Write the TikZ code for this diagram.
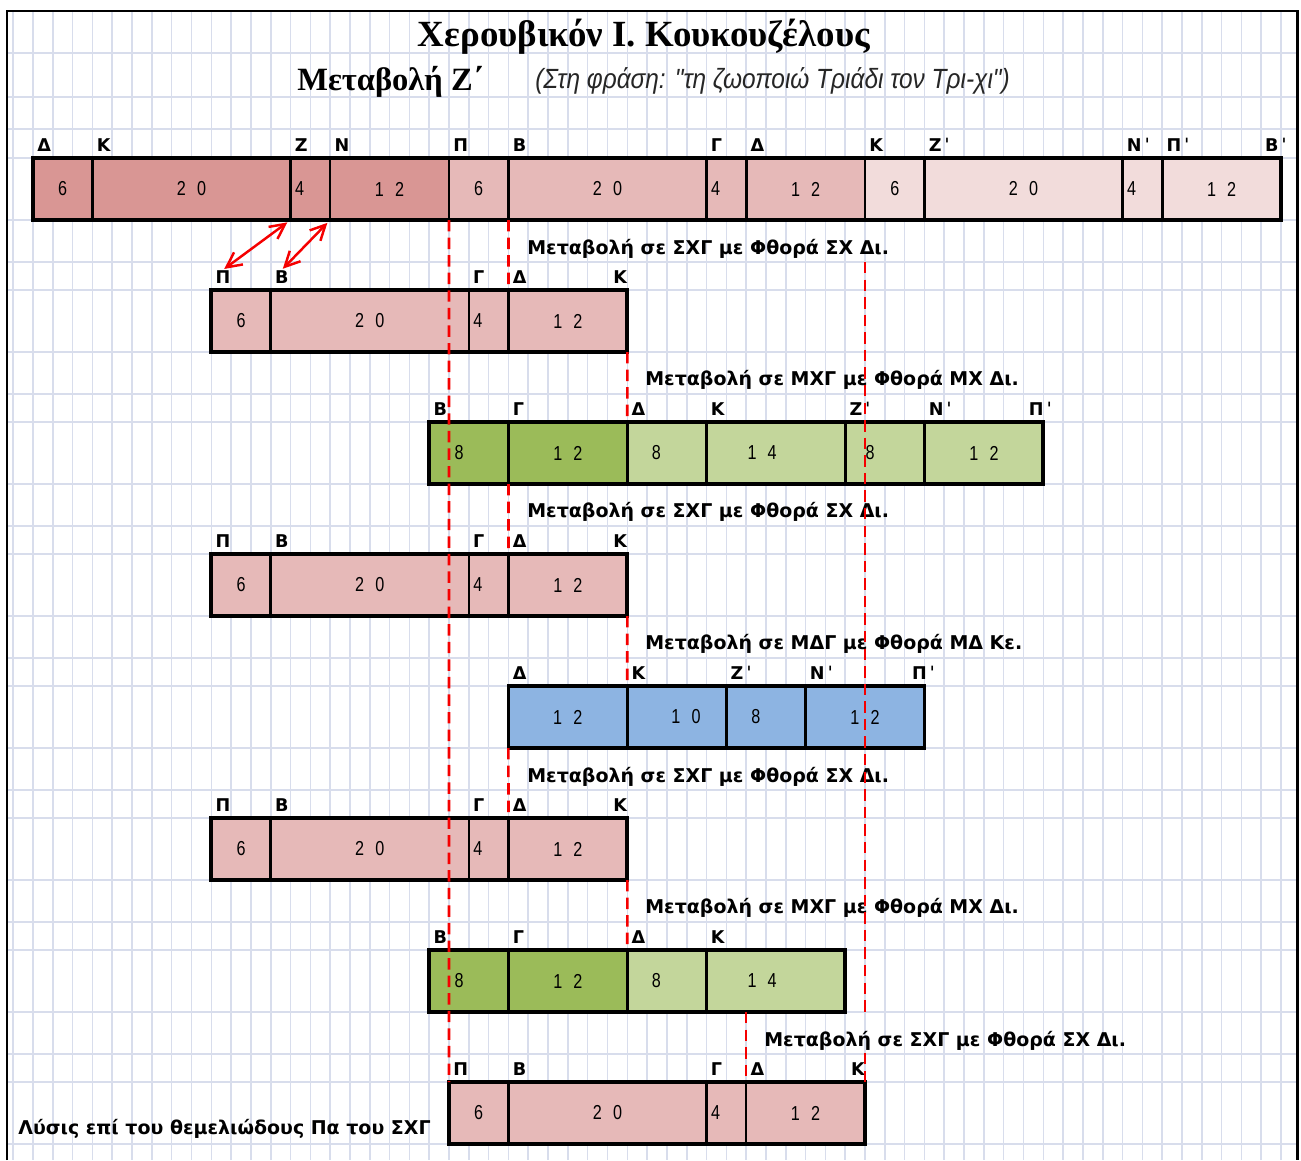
\documentclass[tikz,border=0pt]{standalone}
\usepackage{fontspec}
\setmainfont{DejaVu Sans}
\newfontfamily\titlefont{Liberation Serif}
\newfontfamily\phrasefont{Liberation Sans}[FakeStretch=0.88]
\newfontfamily\numfont{Liberation Sans}[FakeStretch=0.8, WordSpace=2.5]
\usetikzlibrary{arrows.meta, positioning}
\definecolor{gridblue}{RGB}{216,221,236}
\definecolor{pinkdark}{RGB}{217,150,148}
\definecolor{pinkmid}{RGB}{230,185,184}
\definecolor{pinklight}{RGB}{242,220,219}
\definecolor{greendark}{RGB}{155,187,89}
\definecolor{greenlight}{RGB}{195,214,155}
\definecolor{cellblue}{RGB}{141,180,226}
\definecolor{guidered}{RGB}{245,0,0}

\begin{document}
\begin{tikzpicture}[x=0.2mm, y=-0.2mm,
        gridline/.style={gridblue, line width=0.9pt},
        cell/.style={rectangle, draw=black, line width=1.5pt, minimum height=12.4mm,
                     inner sep=0pt, outer sep=0pt, anchor=north west,
                     font=\numfont\fontsize{11.5}{11.5}\selectfont},
        cols/.style={minimum width=#1*3.962mm},
        nudge/.style={execute at begin node={\hspace*{#1}}},
        boxline/.style={draw=black, line width=2.1pt},
        tag/.style={anchor=base west, inner sep=0pt, xshift=0.8mm, yshift=1.4mm,
                    font=\bfseries\fontsize{10}{12}\selectfont},
        tagend/.style={anchor=base east, inner sep=0pt, xshift=#1, yshift=1.4mm,
                       font=\bfseries\fontsize{10}{12}\selectfont},
        note/.style={anchor=base west, inner sep=0pt, font=\bfseries\fontsize{10.8}{12}\selectfont},
        guide/.style={guidered, line width=1.5pt, dash pattern=on 6.5pt off 3.5pt},
        swaparrow/.style={{Straight Barb[length=3mm, width=3mm]}-{Straight Barb[length=3mm, width=3mm]},
                          guidered, line width=1.4pt, shorten >=0.8mm, shorten <=0.3mm}
    ]
    \useasboundingbox (0,0) rectangle (1301,1160);
    \fill[white] (0,0) rectangle (1301,1160);
    \foreach \i in {-1,...,63}
        \draw[gridline] ({33+19.81*\i},11) -- ({33+19.81*\i},1160);
    \foreach \y in {53,97,129,158,220,262,290,352,394,422,484,526,554,616,658,686,748,790,818,880,922,950,1012,1054,1082,1144}
        \draw[gridline] (7,\y) -- (1297,\y);
    \draw[line width=1.7pt] (7,1160) -- (7,11) -- (1297,11) -- (1297,1160);

    \node[font=\titlefont\bfseries\fontsize{21}{24}\selectfont, anchor=base] (title) at (644,46) {Χερουβικόν Ι. Κουκουζέλους};
    \node[font=\titlefont\bfseries\fontsize{18.5}{20}\selectfont, anchor=base west, inner sep=0pt] (var) at (297,90) {Μεταβολή Ζ΄};
    \node[font=\phrasefont\itshape\fontsize{15.8}{17}\selectfont, anchor=base west, inner sep=0pt, text=black!85] (phrase) at (535,88) {(Στη φράση: "τη ζωοποιώ Τριάδι τον Τρι-χι")};

    % arxiki fora
    \node[cell, cols=3, fill=pinkdark] (d1) at (33,158) {6};
    \node[cell, cols=10, fill=pinkdark, right=0pt of d1] (k1) {2 0};
    \node[cell, cols=2, fill=pinkdark, nudge=-4.3mm, right=0pt of k1] (z1) {4};
    \node[cell, cols=6, fill=pinkdark, right=0pt of z1] (n1) {1 2};
    \node[cell, cols=3, fill=pinkmid, right=0pt of n1] (p1) {6};
    \node[cell, cols=10, fill=pinkmid, right=0pt of p1] (b1) {2 0};
    \node[cell, cols=2, fill=pinkmid, nudge=-4.3mm, right=0pt of b1] (g1) {4};
    \node[cell, cols=6, fill=pinkmid, right=0pt of g1] (dd1) {1 2};
    \node[cell, cols=3, fill=pinklight, right=0pt of dd1] (kk1) {6};
    \node[cell, cols=10, fill=pinklight, right=0pt of kk1] (zz1) {2 0};
    \node[cell, cols=2, fill=pinklight, nudge=-4.3mm, right=0pt of zz1] (nn1) {4};
    \node[cell, cols=6, fill=pinklight, right=0pt of nn1] (pp1) {1 2};
    \draw[boxline] (d1.north west) rectangle (pp1.south east);
    \node[tag] (ld1) at (d1.north west) {Δ};
    \node[tag] (lk1) at (k1.north west) {Κ};
    \node[tag] (lz1) at (z1.north west) {Ζ};
    \node[tag] (ln1) at (n1.north west) {Ν};
    \node[tag] (lp1) at (p1.north west) {Π};
    \node[tag] (lb1) at (b1.north west) {Β};
    \node[tag] (lg1) at (g1.north west) {Γ};
    \node[tag] (ldd1) at (dd1.north west) {Δ};
    \node[tag] (lkk1) at (kk1.north west) {Κ};
    \node[tag] (lzz1) at (zz1.north west) {Ζ\,ˈ};
    \node[tag] (lnn1) at (nn1.north west) {Ν\,ˈ};
    \node[tag] (lpp1) at (pp1.north west) {Π\,ˈ};
    \node[tagend=1.2mm] (lbb1) at (pp1.north east) {Β\,ˈ};

    % SXG
    \node[note] (m2) at (527,254) {Μεταβολή σε ΣΧΓ με Φθορά ΣΧ Δι.};
    \node[cell, cols=3, fill=pinkmid] (p2) at (211.3,290) {6};
    \node[cell, cols=10, fill=pinkmid, right=0pt of p2] (b2) {2 0};
    \node[cell, cols=2, fill=pinkmid, nudge=-4.3mm, right=0pt of b2] (g2) {4};
    \node[cell, cols=6, fill=pinkmid, right=0pt of g2] (d2) {1 2};
    \draw[boxline] (p2.north west) rectangle (d2.south east);
    \node[tag] (lp2) at (p2.north west) {Π};
    \node[tag] (lb2) at (b2.north west) {Β};
    \node[tag] (lg2) at (g2.north west) {Γ};
    \node[tag] (ld2) at (d2.north west) {Δ};
    \node[tagend=0mm] (lk2) at (d2.north east) {Κ};

    % MXG
    \node[note] (m3) at (645,385) {Μεταβολή σε ΜΧΓ με Φθορά ΜΧ Δι.};
    \node[cell, cols=4, fill=greendark, nudge=-3.9mm] (b3) at (429.2,422) {8};
    \node[cell, cols=6, fill=greendark, right=0pt of b3] (g3) {1 2};
    \node[cell, cols=4, fill=greenlight, nudge=-4.2mm, right=0pt of g3] (d3) {8};
    \node[cell, cols=7, fill=greenlight, nudge=-5.5mm, right=0pt of d3] (k3) {1 4};
    \node[cell, cols=4, fill=greenlight, nudge=-5.9mm, right=0pt of k3] (z3) {8};
    \node[cell, cols=6, fill=greenlight, right=0pt of z3] (n3) {1 2};
    \draw[boxline] (b3.north west) rectangle (n3.south east);
    \node[tag] (lb3) at (b3.north west) {Β};
    \node[tag] (lg3) at (g3.north west) {Γ};
    \node[tag] (ld3) at (d3.north west) {Δ};
    \node[tag] (lk3) at (k3.north west) {Κ};
    \node[tag] (lz3) at (z3.north west) {Ζ\,ˈ};
    \node[tag] (ln3) at (n3.north west) {Ν\,ˈ};
    \node[tagend=1.8mm] (lp3) at (n3.north east) {Π\,ˈ};

    % SXG
    \node[note] (m4) at (527,517) {Μεταβολή σε ΣΧΓ με Φθορά ΣΧ Δι.};
    \node[cell, cols=3, fill=pinkmid] (p4) at (211.3,554) {6};
    \node[cell, cols=10, fill=pinkmid, right=0pt of p4] (b4) {2 0};
    \node[cell, cols=2, fill=pinkmid, nudge=-4.3mm, right=0pt of b4] (g4) {4};
    \node[cell, cols=6, fill=pinkmid, right=0pt of g4] (d4) {1 2};
    \draw[boxline] (p4.north west) rectangle (d4.south east);
    \node[tag] (lp4) at (p4.north west) {Π};
    \node[tag] (lb4) at (b4.north west) {Β};
    \node[tag] (lg4) at (g4.north west) {Γ};
    \node[tag] (ld4) at (d4.north west) {Δ};
    \node[tagend=0mm] (lk4) at (d4.north east) {Κ};

    % MDG
    \node[note] (m5) at (645,649) {Μεταβολή σε ΜΔΓ με Φθορά ΜΔ Κε.};
    \node[cell, cols=6, fill=cellblue] (d5) at (508.4,686) {1 2};
    \node[cell, cols=5, fill=cellblue, nudge=3.7mm, right=0pt of d5] (k5) {1 0};
    \node[cell, cols=4, fill=cellblue, nudge=-4mm, right=0pt of k5] (z5) {8};
    \node[cell, cols=6, fill=cellblue, right=0pt of z5] (n5) {1 2};
    \draw[boxline] (d5.north west) rectangle (n5.south east);
    \node[tag] (ld5) at (d5.north west) {Δ};
    \node[tag] (lk5) at (k5.north west) {Κ};
    \node[tag] (lz5) at (z5.north west) {Ζ\,ˈ};
    \node[tag] (ln5) at (n5.north west) {Ν\,ˈ};
    \node[tagend=2.2mm] (lp5) at (n5.north east) {Π\,ˈ};

    % SXG
    \node[note] (m6) at (527,782) {Μεταβολή σε ΣΧΓ με Φθορά ΣΧ Δι.};
    \node[cell, cols=3, fill=pinkmid] (p6) at (211.3,818) {6};
    \node[cell, cols=10, fill=pinkmid, right=0pt of p6] (b6) {2 0};
    \node[cell, cols=2, fill=pinkmid, nudge=-4.3mm, right=0pt of b6] (g6) {4};
    \node[cell, cols=6, fill=pinkmid, right=0pt of g6] (d6) {1 2};
    \draw[boxline] (p6.north west) rectangle (d6.south east);
    \node[tag] (lp6) at (p6.north west) {Π};
    \node[tag] (lb6) at (b6.north west) {Β};
    \node[tag] (lg6) at (g6.north west) {Γ};
    \node[tag] (ld6) at (d6.north west) {Δ};
    \node[tagend=0mm] (lk6) at (d6.north east) {Κ};

    % MXG
    \node[note] (m7) at (645,913) {Μεταβολή σε ΜΧΓ με Φθορά ΜΧ Δι.};
    \node[cell, cols=4, fill=greendark, nudge=-3.9mm] (b7) at (429.2,950) {8};
    \node[cell, cols=6, fill=greendark, right=0pt of b7] (g7) {1 2};
    \node[cell, cols=4, fill=greenlight, nudge=-4.2mm, right=0pt of g7] (d7) {8};
    \node[cell, cols=7, fill=greenlight, nudge=-5.5mm, right=0pt of d7] (k7) {1 4};
    \draw[boxline] (b7.north west) rectangle (k7.south east);
    \node[tag] (lb7) at (b7.north west) {Β};
    \node[tag] (lg7) at (g7.north west) {Γ};
    \node[tag] (ld7) at (d7.north west) {Δ};
    \node[tag] (lk7) at (k7.north west) {Κ};

    % lysis
    \node[note] (m8) at (764,1046) {Μεταβολή σε ΣΧΓ με Φθορά ΣΧ Δι.};
    \node[cell, cols=3, fill=pinkmid] (p8) at (449,1082) {6};
    \node[cell, cols=10, fill=pinkmid, right=0pt of p8] (b8) {2 0};
    \node[cell, cols=2, fill=pinkmid, nudge=-4.3mm, right=0pt of b8] (g8) {4};
    \node[cell, cols=6, fill=pinkmid, right=0pt of g8] (d8) {1 2};
    \draw[boxline] (p8.north west) rectangle (d8.south east);
    \node[tag] (lp8) at (p8.north west) {Π};
    \node[tag] (lb8) at (b8.north west) {Β};
    \node[tag] (lg8) at (g8.north west) {Γ};
    \node[tag] (ld8) at (d8.north west) {Δ};
    \node[tagend=0mm] (lk8) at (d8.north east) {Κ};
    \node[note, font=\bfseries\fontsize{10.8}{12}\selectfont] (sol) at (18,1134) {Λύσις επί του θεμελιώδους Πα του ΣΧΓ};

    \coordinate (gtop) at (865,262);
    \draw[guide] (p1.south west) -- (p8.north west);
    \draw[guide] (b1.south west) -- (d2.north west);
    \draw[guide] (d2.south east) -- (d3.north west);
    \draw[guide] (g3.south west) -- (d4.north west);
    \draw[guide] (d4.south east) -- (k5.north west);
    \draw[guide] (d5.south west) -- (d6.north west);
    \draw[guide] (d6.south east) -- (d7.north west);
    \draw[guide] (d8.north west |- k7.south) -- (d8.north west);
    \draw[guide] (gtop) -- (gtop |- k7.south);
    \draw[guide] (d8.north east) -- ++(0,-29);

    \draw[swaparrow] (lp2.north) -- (k1.south east);
    \draw[swaparrow] (lb2.north) -- (n1.south west);
\end{tikzpicture}
\end{document}
